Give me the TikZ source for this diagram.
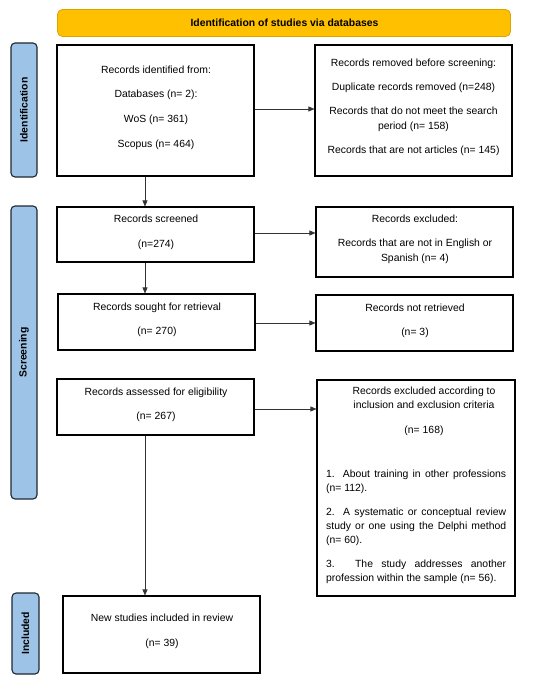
\documentclass[tikz,border=0pt]{standalone}
\usepackage{fontspec}
\setmainfont{Liberation Sans}
\usetikzlibrary{arrows.meta}
\definecolor{banner}{HTML}{FFC000}
\definecolor{bannerline}{HTML}{DDA300}
\definecolor{sidefill}{HTML}{9DC3E6}
\definecolor{sideline}{HTML}{1E2833}
\begin{document}
\begin{tikzpicture}[x=1pt,y=-1pt,
  font=\fontsize{10.4}{13}\selectfont,
  box/.style={draw=black,line width=1.1pt,inner sep=0pt},
  tl/.style={anchor=base,inner sep=0pt},
  side/.style={draw=sideline,fill=sidefill,line width=1.1pt,rounded corners=4pt},
  sidelabel/.style={rotate=90,font=\fontsize{10.4}{12}\selectfont\bfseries,inner sep=0pt},
  arr/.style={-{Triangle[length=6pt,width=5pt]},line width=0.6pt,draw=black!80}]
\useasboundingbox (0,0) rectangle (550,682);
% banner
\node[draw=bannerline,fill=banner,line width=0.8pt,rounded corners=5pt,minimum width=453pt,minimum height=27pt,inner sep=0pt] (banner) at (284,23) {};
\node[font=\fontsize{10.4}{12}\selectfont\bfseries,inner sep=0pt] (bannertext) at (284.5,23) {Identification of studies via databases};
% side bars
\node[side,minimum width=26pt,minimum height=134pt] (sidid) at (24,110) {};
\node[sidelabel] (sididt) at (24,110) {Identification};
\node[side,minimum width=26pt,minimum height=293pt] (sidscr) at (24,352.5) {};
\node[sidelabel] (sidscrt) at (24,352.5) {Screening};
\node[side,minimum width=27pt,minimum height=81pt] (sidinc) at (25.5,633.5) {};
\node[sidelabel] (sidinct) at (25.5,633.5) {Included};
% boxes
\node[box,minimum width=197pt,minimum height=131pt] (ident) at (155.5,110.5) {};
\node[box,minimum width=197pt,minimum height=131pt] (removed) at (413.5,110.5) {};
\node[box,minimum width=197pt,minimum height=55pt] (screened) at (155.5,234.5) {};
\node[box,minimum width=197pt,minimum height=70pt] (excl1) at (414.5,242) {};
\node[box,minimum width=197pt,minimum height=56pt] (sought) at (156.5,322) {};
\node[box,minimum width=197pt,minimum height=56pt] (notret) at (414.5,323) {};
\node[box,minimum width=197pt,minimum height=56pt] (assessed) at (155.5,407) {};
\node[box,minimum width=198pt,minimum height=216pt] (excl2) at (416,488) {};
\node[box,minimum width=197pt,minimum height=77pt] (included) at (161.5,634.5) {};
% texts: identification
\node[tl] (t1) at (156,74) {Records identified from:};
\node[tl] (t2) at (156,98) {Databases (n= 2):};
\node[tl] (t3) at (156,123) {WoS (n= 361)};
\node[tl] (t4) at (156,147) {Scopus (n= 464)};
\node[tl] (r1) at (413.5,67) {Records removed before screening:};
\node[tl] (r2) at (413.5,91) {Duplicate records removed (n=248)};
\node[tl] (r3) at (413.5,114) {Records that do not meet the search};
\node[tl] (r4) at (413.5,129) {period (n= 158)};
\node[tl] (r5) at (413.5,153) {Records that are not articles (n= 145)};
% screening
\node[tl] (s1) at (156,222) {Records screened};
\node[tl] (s2) at (156,247) {(n=274)};
\node[tl] (e1) at (415,222) {Records excluded:};
\node[tl] (e2) at (415,246) {Records that are not in English or};
\node[tl] (e3) at (415,261) {Spanish (n= 4)};
\node[tl] (g1) at (157,310) {Records sought for retrieval};
\node[tl] (g2) at (157,334) {(n= 270)};
\node[tl] (n1) at (415,311) {Records not retrieved};
\node[tl] (n2) at (415,335) {(n= 3)};
\node[tl] (a1) at (156,395) {Records assessed for eligibility};
\node[tl] (a2) at (156,419) {(n= 267)};
\node[tl] (x1) at (424,394.5) {Records excluded according to};
\node[tl] (x2) at (424,408) {inclusion and exclusion criteria};
\node[tl] (x3) at (424,433) {(n= 168)};
\node[anchor=north west,inner sep=0pt,text width=180pt,align=justify] (xlist) at (326,470) {%
  \fontsize{10.4}{14}\selectfont\hyphenpenalty=10000
  \parskip=10pt\parindent=0pt
  1. About training in other professions\linebreak (n= 112).\par
  2. A systematic or conceptual review\linebreak study or one using the Delphi method\linebreak (n= 60).\par
  3. The study addresses another\linebreak profession within the sample (n= 56).\par};
% included
\node[tl] (i1) at (162,621) {New studies included in review};
\node[tl] (i2) at (162,646) {(n= 39)};
% connectors
\draw[arr] (ident.east |- 0,109) -- (removed.west |- 0,109);
\draw[arr] (ident.south -| 145,0) -- (screened.north -| 145,0);
\draw[arr] (screened.east |- 0,233) -- (excl1.west |- 0,233);
\draw[arr] (screened.south -| 145,0) -- (sought.north -| 145,0);
\draw[arr] (sought.east |- 0,323) -- (notret.west |- 0,323);
\draw[arr] (assessed.east |- 0,409) -- (excl2.west |- 0,409);
\draw[arr] (assessed.south -| 145,0) -- (included.north -| 145,0);
\end{tikzpicture}
\end{document}
